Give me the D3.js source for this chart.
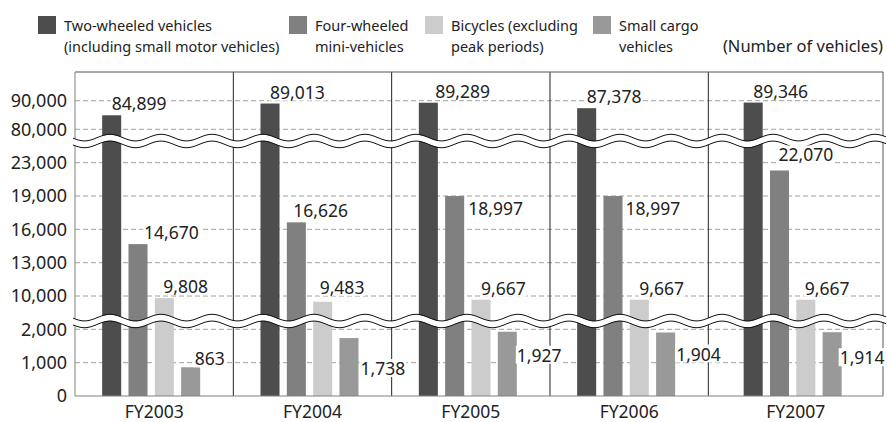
<!DOCTYPE html>
<html>
<head>
<meta charset="utf-8">
<script src="https://cdn.jsdelivr.net/npm/d3@7"></script>
<style>
  html, body { margin: 0; padding: 0; background: #fff; }
  svg { display: block; font-family: "Noto Sans", sans-serif; }
</style>
</head>
<body>
<div id="chart"></div>
<script>
// data
var years = ["FY2003", "FY2004", "FY2005", "FY2006", "FY2007"];
var twoWheeled = [84899, 89013, 89289, 87378, 89346];
var fourWheeled = [14670, 16626, 18997, 18997, 22070];
var bicycles = [9808, 9483, 9667, 9667, 9667];
var smallCargo = [863, 1738, 1927, 1904, 1914];

var seriesNames = [
  ["Two-wheeled vehicles", "(including small motor vehicles)"],
  ["Four-wheeled", "mini-vehicles"],
  ["Bicycles (excluding", "peak periods)"],
  ["Small cargo", "vehicles"]
];
var yTicks = [0, 1000, 2000, 10000, 13000, 16000, 19000, 23000, 80000, 90000];
var unitLabel = "(Number of vehicles)";

// layout only
var colors = ["#4d4d4d", "#808080", "#cccccc", "#999999"];
var legendX = [38, 289, 425, 593];
// label placement: [mode, dx, dy]  (top = above bar, right = beside bar)
var labelSpots = [
  [["top", 0, 0], ["top", 0, 0], ["top", 7, 0], ["top", 0, 0], ["top", 0, 0]],
  [["top", 6, 0], ["top", -3, 0], ["right", 4, 19], ["right", 3, 19], ["top", -1, -4]],
  [["top", -1, 0], ["top", -3, -3], ["top", 0, 0], ["top", 0, 0], ["top", -1, 0]],
  [["top", 4, 3], ["right", 2, 37], ["right", 0, 30], ["right", 1, 28], ["right", -2, 32]]
];

var W = 887, H = 422;
var plot = { left: 75, right: 883, top: 72, bottom: 396 };

var svg = d3.select("#chart").append("svg")
  .attr("width", W)
  .attr("height", H);

// broken y scale: three pieces, flat where the wave sits
var y = d3.scaleLinear()
  .domain([0, 1000, 2000, 2250, 7750, 10000, 13000, 16000, 19000, 23000, 25600, 76000, 80000, 90000])
  .range([396, 362.7, 329.3, 321, 321, 296, 262.7, 229.3, 196, 162.7, 141, 141, 129.3, 100.7]);

var x0 = d3.scaleBand().domain(years).range([plot.left, plot.left + 5 * 158.33]);
var series = [twoWheeled, fourWheeled, bicycles, smallCargo];
var x1 = d3.scaleBand().domain(d3.range(series.length)).range([-49, 49]).paddingInner(0.277);

function groupLeft(i) { return x0(years[i]); }
function groupRight(i) { return i === years.length - 1 ? plot.right : x0(years[i]) + x0.bandwidth(); }
function groupCenter(i) { return (groupLeft(i) + groupRight(i)) / 2 - 3; }

// gridlines
svg.selectAll("line.grid").data(yTicks.filter(function(d) { return d > 0; })).enter()
  .append("line")
  .attr("class", "grid")
  .attr("x1", plot.left).attr("x2", plot.right)
  .attr("y1", function(d) { return y(d); })
  .attr("y2", function(d) { return y(d); })
  .attr("stroke", "#a0a0a0")
  .attr("stroke-dasharray", "5,3")
  .attr("stroke-width", 1);

// dividers between years
svg.selectAll("line.divider").data(d3.range(1, years.length)).enter()
  .append("line")
  .attr("class", "divider")
  .attr("x1", function(i) { return groupLeft(i); })
  .attr("x2", function(i) { return groupLeft(i); })
  .attr("y1", plot.top).attr("y2", plot.bottom)
  .attr("stroke", "#222")
  .attr("stroke-width", 1);

// bars
var cells = [];
series.forEach(function(vals, s) {
  vals.forEach(function(v, i) {
    cells.push({ s: s, i: i, v: v });
  });
});

svg.selectAll("rect.bar").data(cells).enter()
  .append("rect")
  .attr("class", "bar")
  .attr("x", function(d) { return groupCenter(d.i) + x1(d.s); })
  .attr("y", function(d) { return y(d.v); })
  .attr("width", x1.bandwidth())
  .attr("height", function(d) { return y(0) - y(d.v); })
  .attr("fill", function(d) { return colors[d.s]; });

// frame
svg.append("line").attr("x1", plot.left).attr("x2", plot.right).attr("y1", plot.top).attr("y2", plot.top)
  .attr("stroke", "#555");
svg.append("line").attr("x1", plot.right).attr("x2", plot.right).attr("y1", plot.top).attr("y2", plot.bottom)
  .attr("stroke", "#555");
svg.append("line").attr("x1", plot.left).attr("x2", plot.left).attr("y1", plot.top).attr("y2", plot.bottom)
  .attr("stroke", "#808080");
svg.append("line").attr("x1", plot.left).attr("x2", plot.right).attr("y1", plot.bottom).attr("y2", plot.bottom)
  .attr("stroke", "#808080");

// wavy break marks
var waveX = d3.range(73, 887, 1);
function wave(cy, off) {
  return d3.line()
    .x(function(d) { return d; })
    .y(function(d) { return cy + off - 3.3 * Math.cos(2 * Math.PI * (d - 110) / 51); })(waveX);
}
[5000, 50000].forEach(function(v) {
  var cy = y(v);
  svg.append("path").attr("d", wave(cy, 0)).attr("fill", "none")
    .attr("stroke", "#fff").attr("stroke-width", 6);
  svg.append("path").attr("d", wave(cy, -3.4)).attr("fill", "none")
    .attr("stroke", "#111").attr("stroke-width", 1);
  svg.append("path").attr("d", wave(cy, 3.4)).attr("fill", "none")
    .attr("stroke", "#111").attr("stroke-width", 1);
});

// y tick labels
svg.selectAll("text.ytick").data(yTicks).enter()
  .append("text")
  .attr("class", "ytick")
  .attr("x", 67)
  .attr("y", function(d) { return y(d); })
  .attr("dy", "0.36em")
  .attr("text-anchor", "end")
  .attr("fill", "#222")
  .style("font-size", "18px")
  .text(function(d) { return d3.format(",")(d); });

// category labels
svg.selectAll("text.xcat").data(years).enter()
  .append("text")
  .attr("class", "xcat")
  .attr("x", function(d, i) { return (groupLeft(i) + groupRight(i)) / 2; })
  .attr("y", 418)
  .attr("text-anchor", "middle")
  .attr("fill", "#222")
  .style("font-size", "17.5px")
  .text(function(d) { return d; });

// value labels with white knock-out box
var labels = svg.selectAll("g.vlabel").data(cells).enter()
  .append("g")
  .attr("class", "vlabel");

labels.append("rect").attr("fill", "#fff");
labels.append("text")
  .attr("fill", "#222")
  .style("font-size", "17.5px")
  .attr("x", function(d) {
    var spot = labelSpots[d.s][d.i];
    var bx = groupCenter(d.i) + x1(d.s);
    if (spot[0] === "right") return bx + x1.bandwidth() + spot[1];
    return bx + x1.bandwidth() / 2 + spot[1];
  })
  .attr("y", function(d) {
    var spot = labelSpots[d.s][d.i];
    if (spot[0] === "right") return y(d.v) + spot[2];
    return y(d.v) - 5 + spot[2];
  })
  .text(function(d) { return d3.format(",")(d.v); });

labels.each(function() {
  var g = d3.select(this);
  var b = g.select("text").node().getBBox();
  g.select("rect")
    .attr("x", b.x - 1).attr("y", b.y + 3)
    .attr("width", b.width + 2).attr("height", b.height - 6);
});

// legend
var legend = svg.selectAll("g.legend").data(seriesNames).enter()
  .append("g")
  .attr("class", "legend")
  .attr("transform", function(d, i) { return "translate(" + legendX[i] + ",0)"; });

legend.append("rect")
  .attr("x", 0).attr("y", 16)
  .attr("width", 18).attr("height", 18)
  .attr("fill", function(d, i) { return colors[i]; });

legend.append("text")
  .attr("x", 26)
  .attr("y", 31)
  .attr("fill", "#222")
  .style("font-size", "14.5px")
  .selectAll("tspan").data(function(d) { return d; }).enter()
  .append("tspan")
  .attr("x", 26)
  .attr("dy", function(d, i) { return i === 0 ? 0 : 20.5; })
  .text(function(d) { return d; });

svg.append("text")
  .attr("x", plot.right)
  .attr("y", 51.5)
  .attr("text-anchor", "end")
  .attr("fill", "#222")
  .style("font-size", "16.5px")
  .text(unitLabel);
</script>
</body>
</html>
